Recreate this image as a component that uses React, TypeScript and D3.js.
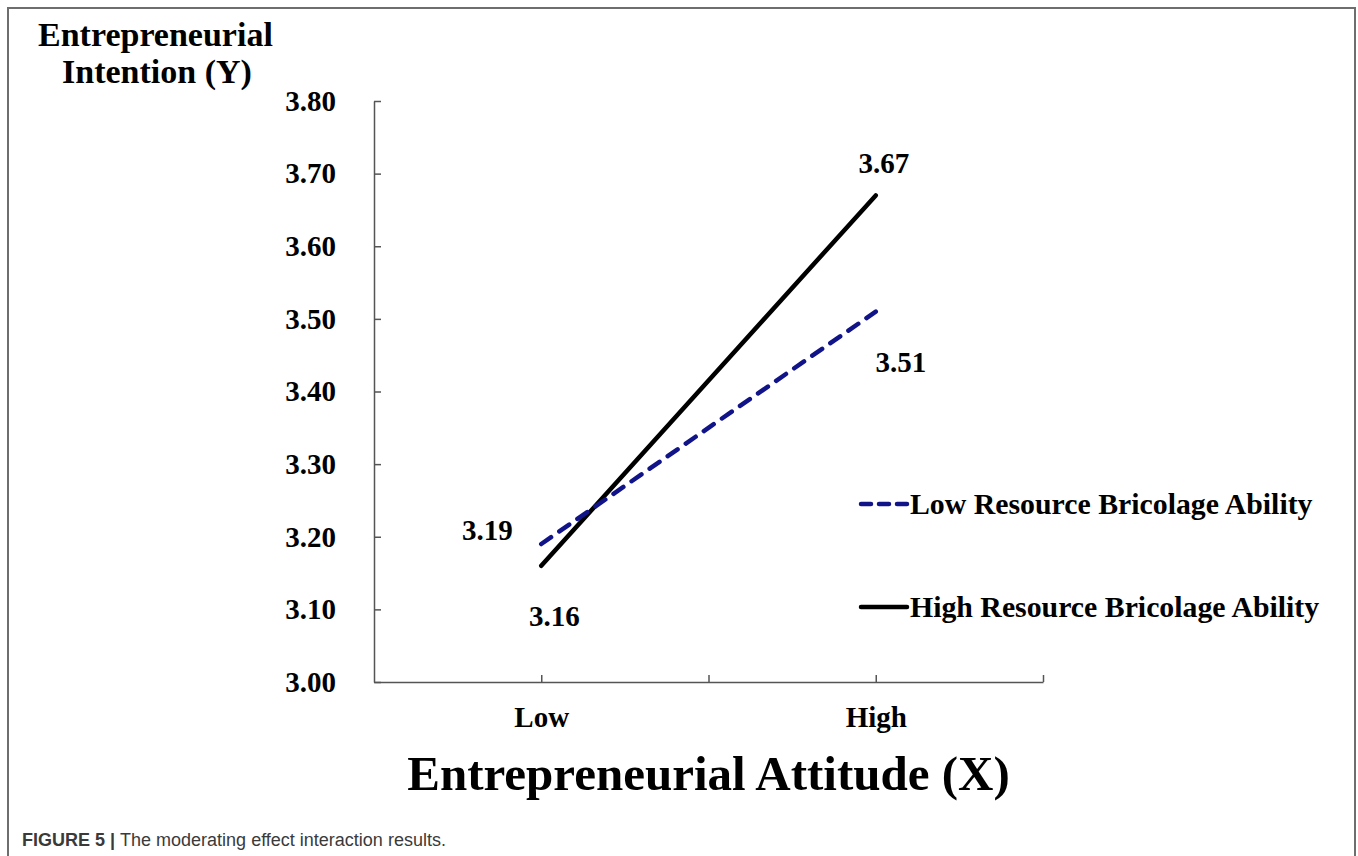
import { useEffect, useRef } from 'react';
import * as d3 from 'd3';

// categories on the x axis (excel style "on tick marks", empty slots between)
const xCategories = ['', 'Low', '', 'High', ''];
const pointCategories = ['Low', 'High'];

// series values
const lowBricolage = [3.19, 3.51];
const highBricolage = [3.16, 3.67];

// y axis
const yTicks = [3.0, 3.1, 3.2, 3.3, 3.4, 3.5, 3.6, 3.7, 3.8];

const seriesNames = ['Low Resource Bricolage Ability', 'High Resource Bricolage Ability'];

const SERIF = '"Liberation Serif", "Times New Roman", serif';
const SANS = '"Liberation Sans", Arial, sans-serif';

export default function App() {
    const svgRef = useRef<SVGSVGElement>(null);

    useEffect(() => {
        const svg = d3.select(svgRef.current);
        svg.selectAll('*').remove();

        const left = 374;
        const right = 1043;
        const top = 101;
        const bottom = 682;

        const x = d3.scalePoint<string>()
            .domain(xCategories.map((_, i) => String(i)))
            .range([left, right]);
        const catX = (name: string) => x(String(xCategories.indexOf(name))) as number;

        const y = d3.scaleLinear().domain([3.0, 3.8]).range([bottom, top]);

        // frame
        svg.append('rect')
            .attr('x', 8).attr('y', 8)
            .attr('width', 1347).attr('height', 870)
            .attr('fill', 'none')
            .attr('stroke', '#6e6e6e')
            .attr('stroke-width', 2);

        // Y axis
        const yAxis = d3.axisLeft(y)
            .tickValues(yTicks)
            .tickFormat(d => (d as number).toFixed(2))
            .tickSizeInner(-7)
            .tickSizeOuter(0)
            .tickPadding(38);
        const yg = svg.append('g').attr('transform', `translate(${left},0)`).call(yAxis);
        yg.select('.domain').attr('stroke', '#555').attr('stroke-width', 1.5);
        yg.selectAll('.tick line').attr('stroke', '#555').attr('stroke-width', 1.5);
        yg.selectAll('.tick text')
            .attr('font-family', SERIF)
            .attr('font-weight', 'bold')
            .attr('font-size', 29)
            .attr('fill', '#000');

        // X axis
        const xAxis = d3.axisBottom(x)
            .tickValues(xCategories.map((_, i) => String(i)).slice(1))
            .tickFormat(d => xCategories[+d])
            .tickSizeInner(-7)
            .tickSizeOuter(0)
            .tickPadding(24);
        const xg = svg.append('g').attr('transform', `translate(0,${bottom})`).call(xAxis);
        xg.select('.domain').attr('stroke', '#555').attr('stroke-width', 1.5);
        xg.selectAll('.tick line').attr('stroke', '#555').attr('stroke-width', 1.5);
        xg.selectAll('.tick text')
            .attr('font-family', SERIF)
            .attr('font-weight', 'bold')
            .attr('font-size', 29)
            .attr('fill', '#000');

        // Lines
        const line = d3.line<number>()
            .x((_, i) => catX(pointCategories[i]))
            .y(d => y(d));

        svg.append('path')
            .datum(highBricolage)
            .attr('fill', 'none')
            .attr('stroke', '#000')
            .attr('stroke-width', 4.5)
            .attr('stroke-linecap', 'round')
            .attr('d', line);

        svg.append('path')
            .datum(lowBricolage)
            .attr('fill', 'none')
            .attr('stroke', '#111488')
            .attr('stroke-width', 4.5)
            .attr('stroke-linecap', 'round')
            .attr('stroke-dasharray', '12,10')
            .attr('d', line);

        // point labels
        const labelStyle = (t: d3.Selection<SVGTextElement, unknown, null, undefined>) => t
            .attr('font-family', SERIF)
            .attr('font-weight', 'bold')
            .attr('font-size', 29)
            .attr('text-anchor', 'middle')
            .attr('fill', '#000');

        svg.append('text')
            .attr('x', catX('High') + 8).attr('y', y(highBricolage[1]) - 22)
            .text(highBricolage[1].toFixed(2)).call(labelStyle);
        svg.append('text')
            .attr('x', catX('High') + 25).attr('y', y(lowBricolage[1]) + 60)
            .text(lowBricolage[1].toFixed(2)).call(labelStyle);
        svg.append('text')
            .attr('x', catX('Low') - 54).attr('y', y(lowBricolage[0]) - 4)
            .text(lowBricolage[0].toFixed(2)).call(labelStyle);
        svg.append('text')
            .attr('x', catX('Low') + 13).attr('y', y(highBricolage[0]) + 60)
            .text(highBricolage[0].toFixed(2)).call(labelStyle);

        // Legend
        const legend = [
            { name: seriesNames[0], color: '#111488', dash: '10,8', y: 504 },
            { name: seriesNames[1], color: '#000', dash: null, y: 607 },
        ];
        legend.forEach(l => {
            svg.append('line')
                .attr('x1', 861).attr('x2', 907)
                .attr('y1', l.y).attr('y2', l.y)
                .attr('stroke', l.color)
                .attr('stroke-width', 4.5)
                .attr('stroke-linecap', 'round')
                .attr('stroke-dasharray', l.dash);
            svg.append('text')
                .attr('x', 910).attr('y', l.y + 10)
                .attr('font-family', SERIF)
                .attr('font-weight', 'bold')
                .attr('font-size', 29.8)
                .attr('fill', '#000')
                .text(l.name);
        });

        // Axis titles
        svg.append('text')
            .attr('x', 38).attr('y', 46)
            .attr('font-family', SERIF).attr('font-weight', 'bold').attr('font-size', 34)
            .text('Entrepreneurial');
        svg.append('text')
            .attr('x', 62).attr('y', 83)
            .attr('font-family', SERIF).attr('font-weight', 'bold').attr('font-size', 34)
            .text('Intention (Y)');

        svg.append('text')
            .attr('x', (left + right) / 2).attr('y', 790)
            .attr('text-anchor', 'middle')
            .attr('font-family', SERIF).attr('font-weight', 'bold').attr('font-size', 49)
            .text('Entrepreneurial Attitude (X)');

        // caption
        const cap = svg.append('text')
            .attr('x', 22).attr('y', 846)
            .attr('font-family', SANS).attr('font-size', 18).attr('fill', '#3a3a3a');
        cap.append('tspan').attr('font-weight', 'bold').text('FIGURE 5 | ');
        cap.append('tspan').text('The moderating effect interaction results.');
    }, []);

    return (
        <>
            <style>{'body{margin:0}'}</style>
            <svg ref={svgRef} width={1358} height={856} style={{ display: 'block', background: '#fff' }}></svg>
        </>
    );
}
